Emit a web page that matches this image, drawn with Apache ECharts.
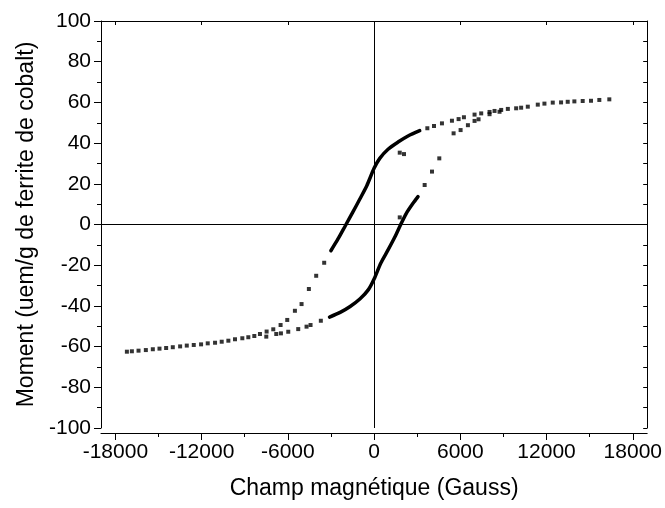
<!DOCTYPE html>
<html><head><meta charset="utf-8">
<script src="https://cdn.jsdelivr.net/npm/echarts@6/dist/echarts.min.js"></script>
<style>html,body{margin:0;padding:0;background:#fff}#c{width:665px;height:508px}</style>
</head><body><div id="c"></div><script>
// Field H (Gauss), moment M (uem/g)
const xTicks = [-18000, -12000, -6000, 0, 6000, 12000, 18000];
const xMinorTicks = [-15000, -9000, -3000, 3000, 9000, 15000];

// descending branch, dense part (drawn as a thick curve)
const descDense = [[-3007,-12.9],[-2500,-7.0],[-2000,-0.6],[-1500,5.8],[-1000,12.4],[-500,19.2],[0,27.6],[394,32.5],[972,37],[1667,40.5],[2361,43.5],[3174,46.1]];
// ascending branch, dense part
const ascDense = [[-3100,-45.5],[-2361,-43.2],[-1667,-40.3],[-972,-36.5],[-394,-32],[0,-26.8],[463,-19],[972,-12.5],[1435,-6.3],[1852,0],[2245,5.5],[2708,10.4],[3056,13.7]];

// descending branch, sparse points
const descRight = [[3705,47.3],[4167,48.4],[4722,49.7],[5417,51],[5880,51.8],[6250,52.7],[6990,54],[7453,54.6],[8032,55.3],[8380,55.8],[8843,56.3]];
const descLeft = [[-3472,-18.8],[-4028,-25.2],[-4537,-31.7],[-5046,-39.1],[-5509,-42.4],[-6042,-46.9],[-6505,-49.4],[-7014,-51.5],[-7477,-52.6],[-7940,-53.8],[-8333,-54.8],[-8750,-55.4],[-9167,-55.9],[-9676,-56.4],[-10139,-57.1],[-10602,-57.6],[-11065,-58.1],[-11574,-58.4],[-12037,-58.9],[-12546,-59.2],[-13032,-59.5],[-13495,-59.9],[-14005,-60.3],[-14468,-60.7],[-14931,-61.0],[-15394,-61.3],[-15880,-61.7],[-16389,-62.0],[-16852,-62.3],[-17199,-62.5]];

// ascending branch, sparse points
const ascLeft = [[-7500,-55.1],[-6806,-53.8],[-6481,-53.5],[-5972,-52.7],[-5278,-51.4],[-4699,-50.2],[-4421,-49.4],[-3705,-47.3]];
const ascRight = [[3518,19.4],[4028,26],[4537,32.5],[5532,44.8],[6019,46.4],[6528,48.8],[6990,50.9],[7268,51.7],[8032,54.2],[8727,55.4],[9306,56.8],[9884,57.1],[10231,57.4],[10694,57.9],[11389,58.9],[11852,59.4],[12431,59.9],[13009,60],[13472,60.3],[13935,60.5],[14514,60.7],[15093,60.8],[15671,61.2],[16366,61.5]];
const strayPoints = [[1785,35.3],[2083,34.6],[1785,3.5]];

const FONT = 'Liberation Sans, Arial, sans-serif';
const black = '#000';
const chart = echarts.init(document.getElementById('c'), null, {renderer: 'canvas'});

const denseLine = (data) => ({
  type: 'line', data, showSymbol: false, smooth: 0.25, silent: true,
  lineStyle: {color: black, width: 3.5, cap: 'round', join: 'round'}, z: 3
});
const dots = (data) => ({
  type: 'scatter', data, symbol: 'rect', symbolSize: 4, silent: true,
  itemStyle: {color: black}, z: 3
});

const series = [
  denseLine(descDense), denseLine(ascDense),
  dots(descRight), dots(descLeft), dots(ascLeft), dots(ascRight), dots(strayPoints)
];
series[0].markLine = {
  silent: true, symbol: 'none', animation: false,
  label: {show: false},
  lineStyle: {color: black, width: 1, type: 'solid'},
  emphasis: {disabled: true},
  data: [{xAxis: 0}, {yAxis: 0}]
};

chart.setOption({
  animation: false,
  backgroundColor: '#fff',
  grid: {left: 101, right: 15, top: 21, bottom: 80},
  xAxis: [
    {
      type: 'value', position: 'bottom', min: -19000, max: 19000, offset: 5,
      axisLine: {show: true, onZero: false, lineStyle: {color: black, width: 1}},
      axisTick: {show: true, inside: false, length: 7, customValues: xTicks, lineStyle: {color: black}},
      axisLabel: {show: true, customValues: xTicks, formatter: v => String(v), fontSize: 21, color: black, margin: 9, fontFamily: FONT},
      splitLine: {show: false},
      name: 'Champ magnétique (Gauss)', nameLocation: 'middle', nameGap: 44,
      nameTextStyle: {fontSize: 23, color: black, fontFamily: FONT}
    },
    {
      type: 'value', position: 'bottom', min: -19000, max: 19000, offset: 5,
      axisLine: {show: false, onZero: false},
      axisTick: {show: true, inside: false, length: 4, customValues: xMinorTicks, lineStyle: {color: black}},
      axisLabel: {show: false}, splitLine: {show: false}
    },
    {
      type: 'value', position: 'top', min: -19000, max: 19000,
      axisLine: {show: true, onZero: false, lineStyle: {color: black, width: 1}},
      axisTick: {show: true, inside: true, length: 4, customValues: xTicks, lineStyle: {color: black}},
      axisLabel: {show: false}, splitLine: {show: false}
    }
  ],
  yAxis: [
    {
      type: 'value', position: 'left', min: -100, max: 100, interval: 20,
      axisLine: {show: true, onZero: false, lineStyle: {color: black, width: 1}},
      axisTick: {show: true, inside: false, length: 7, lineStyle: {color: black}},
      minorTick: {show: true, splitNumber: 2, length: 4, lineStyle: {color: black}},
      axisLabel: {fontSize: 21, color: black, margin: 10, fontFamily: FONT},
      splitLine: {show: false}, minorSplitLine: {show: false},
      name: 'Moment (uem/g de ferrite de cobalt)', nameLocation: 'middle', nameGap: 60, nameRotate: 90,
      nameTextStyle: {fontSize: 23, color: black, fontFamily: FONT}
    },
    {
      type: 'value', position: 'right', min: -100, max: 100, interval: 10,
      axisLine: {show: true, onZero: false, lineStyle: {color: black, width: 1}},
      axisTick: {show: true, inside: true, length: 4, lineStyle: {color: black}},
      axisLabel: {show: false}, splitLine: {show: false}
    }
  ],
  series
});
</script></body></html>
